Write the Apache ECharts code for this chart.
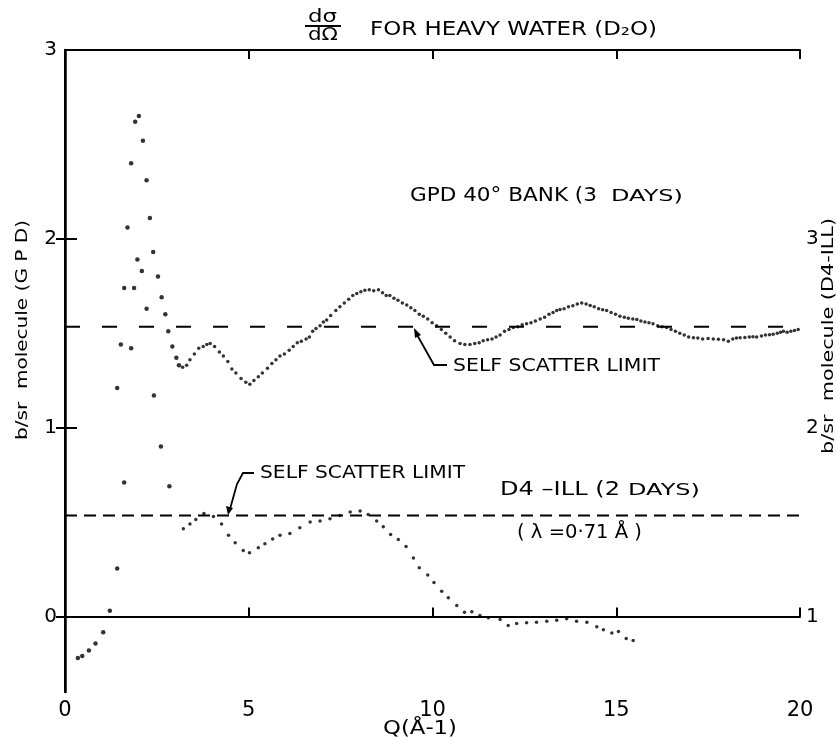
<!DOCTYPE html>
<html>
<head>
<meta charset="utf-8">
<script src="https://cdn.jsdelivr.net/npm/echarts@6/dist/echarts.min.js"></script>
<style>
  html, body { margin: 0; padding: 0; background: #fff; }
  #chart { width: 836px; height: 738px; }
</style>
</head>
<body>
<div id="chart"></div>
<script>
// Axis ticks
const xTicks = [0, 5, 10, 15, 20];
const leftTicks = [0, 1, 2, 3];
const rightTicks = [1, 2, 3];

// Self-scatter limits (left scale for GPD, right scale for D4-ILL)
const gpdLimit = 1.535;
const d4Limit = 1.535;

// GPD 40° bank, first-peak region [Q, b/sr per molecule]
const gpdPeak = [
  [1.42, 1.21], [1.52, 1.44], [1.61, 1.74], [1.70, 2.06], [1.80, 2.40], [1.88, 1.74],
  [1.91, 2.62], [2.01, 2.65], [2.12, 2.52], [2.22, 2.31], [2.31, 2.11], [2.40, 1.93],
  [2.53, 1.80], [2.63, 1.69], [2.73, 1.60], [2.81, 1.51], [2.92, 1.43], [3.03, 1.37],
  [3.10, 1.33]
];

// GPD 40° bank, Q >= 3.2
const gpdCurve = [
  [3.20, 1.32], [3.31, 1.33], [3.40, 1.36], [3.52, 1.39], [3.64, 1.42], [3.76, 1.43],
  [3.86, 1.44], [3.95, 1.446], [4.07, 1.43], [4.20, 1.40], [4.31, 1.38], [4.43, 1.35],
  [4.54, 1.31], [4.65, 1.29], [4.79, 1.26], [4.92, 1.24], [5.03, 1.23], [5.14, 1.25],
  [5.26, 1.27], [5.37, 1.29], [5.51, 1.315], [5.63, 1.34], [5.74, 1.36], [5.85, 1.38],
  [5.97, 1.39], [6.10, 1.41], [6.21, 1.43], [6.32, 1.45], [6.43, 1.457], [6.56, 1.47],
  [6.65, 1.48], [6.74, 1.51], [6.83, 1.525], [6.94, 1.54], [7.03, 1.56], [7.12, 1.57],
  [7.23, 1.594], [7.37, 1.62], [7.48, 1.64], [7.60, 1.66], [7.72, 1.68], [7.83, 1.70],
  [7.94, 1.71], [8.05, 1.72], [8.16, 1.728], [8.28, 1.73], [8.40, 1.725], [8.53, 1.73],
  [8.64, 1.715], [8.74, 1.70], [8.84, 1.70], [8.95, 1.685], [9.06, 1.675], [9.18, 1.66],
  [9.30, 1.65], [9.41, 1.635], [9.52, 1.62], [9.64, 1.60], [9.75, 1.59], [9.87, 1.575],
  [9.99, 1.555], [10.11, 1.54], [10.24, 1.52], [10.36, 1.50], [10.48, 1.48], [10.60, 1.46],
  [10.75, 1.446], [10.88, 1.44], [11.02, 1.44], [11.15, 1.445], [11.27, 1.45], [11.38, 1.46],
  [11.50, 1.465], [11.62, 1.47], [11.73, 1.48], [11.84, 1.49], [11.96, 1.51], [12.08, 1.52],
  [12.20, 1.53], [12.32, 1.535], [12.44, 1.545], [12.56, 1.55], [12.68, 1.555], [12.80, 1.565],
  [12.93, 1.575], [13.05, 1.585], [13.17, 1.60], [13.28, 1.61], [13.38, 1.62], [13.47, 1.626],
  [13.58, 1.63], [13.70, 1.64], [13.82, 1.645], [13.94, 1.655], [14.06, 1.66], [14.18, 1.655],
  [14.29, 1.647], [14.40, 1.64], [14.52, 1.63], [14.63, 1.625], [14.74, 1.62], [14.86, 1.61],
  [14.98, 1.60], [15.10, 1.59], [15.22, 1.585], [15.33, 1.58], [15.45, 1.575], [15.56, 1.573],
  [15.67, 1.565], [15.78, 1.56], [15.89, 1.555], [16.00, 1.55], [16.13, 1.54], [16.25, 1.535],
  [16.37, 1.53], [16.49, 1.52], [16.61, 1.51], [16.73, 1.50], [16.85, 1.49], [16.97, 1.48],
  [17.10, 1.476], [17.22, 1.475], [17.35, 1.47], [17.50, 1.472], [17.64, 1.47], [17.78, 1.468],
  [17.92, 1.465], [18.05, 1.458], [18.17, 1.47], [18.27, 1.475], [18.37, 1.476], [18.50, 1.478],
  [18.62, 1.48], [18.72, 1.482], [18.82, 1.48], [18.95, 1.485], [19.06, 1.49], [19.17, 1.492],
  [19.27, 1.494], [19.38, 1.50], [19.47, 1.505], [19.55, 1.51], [19.65, 1.505], [19.75, 1.51],
  [19.85, 1.515], [19.95, 1.52]
];

// D4-ILL, low-Q and first-peak region (right scale)
const d4Peak = [
  [0.35, 0.78], [0.47, 0.79], [0.65, 0.82], [0.83, 0.857], [1.04, 0.917], [1.22, 1.03],
  [1.42, 1.254], [1.61, 1.71], [1.80, 2.42], [1.97, 2.89], [2.09, 2.83], [2.22, 2.63],
  [2.42, 2.17], [2.61, 1.90], [2.84, 1.69]
];

// D4-ILL, Q >= 3.2 (right scale)
const d4Curve = [
  [3.22, 1.465], [3.40, 1.49], [3.56, 1.514], [3.78, 1.545], [4.04, 1.53], [4.26, 1.49],
  [4.45, 1.43], [4.63, 1.39], [4.85, 1.35], [5.02, 1.337], [5.26, 1.364], [5.44, 1.385],
  [5.65, 1.41], [5.85, 1.43], [6.12, 1.44], [6.39, 1.47], [6.67, 1.50], [6.94, 1.505],
  [7.21, 1.517], [7.48, 1.535], [7.76, 1.553], [8.03, 1.558], [8.25, 1.54], [8.48, 1.505],
  [8.66, 1.475], [8.86, 1.434], [9.07, 1.408], [9.28, 1.37], [9.48, 1.31], [9.64, 1.258],
  [9.87, 1.22], [10.04, 1.18], [10.25, 1.134], [10.43, 1.099], [10.66, 1.058], [10.87, 1.023],
  [11.07, 1.025], [11.29, 1.005], [11.52, 0.993], [11.84, 0.984], [12.06, 0.952], [12.29, 0.963],
  [12.56, 0.967], [12.83, 0.97], [13.11, 0.975], [13.38, 0.98], [13.65, 0.988], [13.92, 0.975],
  [14.20, 0.97], [14.47, 0.945], [14.65, 0.93], [14.88, 0.913], [15.06, 0.92], [15.27, 0.883],
  [15.46, 0.873]
];

const INK = '#000';
const FONT = '"DejaVu Sans"';

const chart = echarts.init(document.getElementById('chart'), null, { renderer: 'canvas' });

function xAxisBase(pos, showLabels) {
  return {
    type: 'value', position: pos, min: 0, max: 20, interval: 5,
    axisLine: { show: true, lineStyle: { color: INK, width: 2 } },
    axisTick: { show: true, inside: true, length: 9, lineStyle: { color: INK, width: 2 } },
    axisLabel: { show: showLabels, color: INK, fontFamily: 'DejaVu Sans', fontSize: 21, margin: 8,
                 customValues: xTicks },
    splitLine: { show: false }
  };
}

const dot = (size) => ({ symbol: 'circle', symbolSize: size, itemStyle: { color: INK } });

// Wide hand-lettered look: text stretched horizontally to a given run length.
const measureCtx = document.createElement('canvas').getContext('2d');
function lettering(text, x, y, size, runLength, opts) {
  opts = opts || {};
  const font = size + 'px ' + FONT;
  measureCtx.font = font;
  const natural = measureCtx.measureText(text).width;
  return {
    type: 'text', x: x, y: y, rotation: opts.rotation || 0,
    scaleX: runLength / natural,
    style: { text: text, fill: INK, font: font,
             align: opts.align || 'left', verticalAlign: 'middle' }
  };
}

chart.setOption({
  animation: false,
  backgroundColor: '#fff',
  grid: { left: 65, right: 36, top: 50, bottom: 46 },
  xAxis: [xAxisBase('bottom', true), xAxisBase('top', false)],
  yAxis: [
    {
      type: 'value', position: 'left', min: -0.4, max: 3,
      axisLine: { show: true, lineStyle: { color: INK, width: 2.5 } },
      axisTick: { show: true, inside: true, length: 12, customValues: leftTicks,
                  lineStyle: { color: INK, width: 2 } },
      axisLabel: { color: INK, fontFamily: 'DejaVu Sans', fontSize: 20, margin: 8,
                   customValues: leftTicks },
      splitLine: { show: false }
    },
    {
      type: 'value', position: 'right', min: 0.6, max: 4,
      axisLine: { show: true, lineStyle: { color: INK, width: 2 } },
      axisTick: { show: true, inside: true, length: 9, customValues: rightTicks,
                  lineStyle: { color: INK, width: 2 } },
      axisLabel: { color: INK, fontFamily: 'DejaVu Sans', fontSize: 20, margin: 6,
                   customValues: rightTicks },
      splitLine: { show: false }
    }
  ],
  series: [
    { type: 'line', data: [[0, gpdLimit], [20, gpdLimit]], yAxisIndex: 0, symbol: 'none',
      lineStyle: { color: INK, width: 2, type: [15, 22] }, silent: true },
    { type: 'line', data: [[0, d4Limit], [20, d4Limit]], yAxisIndex: 1, symbol: 'none',
      lineStyle: { color: INK, width: 2, type: [12, 7] }, silent: true },
    Object.assign({ type: 'scatter', name: 'GPD', yAxisIndex: 0, data: gpdPeak }, dot(4.5)),
    Object.assign({ type: 'scatter', name: 'GPD', yAxisIndex: 0, data: gpdCurve }, dot(3.5)),
    Object.assign({ type: 'scatter', name: 'D4-ILL', yAxisIndex: 1, data: d4Peak }, dot(4.5)),
    Object.assign({ type: 'scatter', name: 'D4-ILL', yAxisIndex: 1, data: d4Curve }, dot(3.5))
  ],
  graphic: [
    // title: dσ/dΩ FOR HEAVY WATER (D2O)
    lettering('dσ', 308, 17, 18, 29),
    { type: 'line', shape: { x1: 305, y1: 26, x2: 341, y2: 26 }, style: { stroke: INK, lineWidth: 2 } },
    lettering('dΩ', 308, 35, 18, 30),
    lettering('FOR HEAVY WATER (D₂O)', 370, 30, 19, 287),

    // GPD annotation
    lettering('GPD 40° BANK (3', 410, 196, 20, 187),
    lettering('DAYS)', 611, 197, 16, 72),

    lettering('SELF SCATTER LIMIT', 453, 366, 18, 207),
    { type: 'polyline', shape: { points: [[447, 365], [434, 365], [416, 333]] },
      style: { stroke: INK, lineWidth: 1.8, fill: null } },
    { type: 'polygon', shape: { points: [[414, 328], [421, 335], [415, 338]] },
      style: { fill: INK } },

    // D4-ILL annotation
    lettering('SELF SCATTER LIMIT', 260, 473, 18, 205),
    { type: 'polyline', shape: { points: [[254, 473], [243, 473], [237, 484], [230, 509]] },
      style: { stroke: INK, lineWidth: 1.8, fill: null } },
    { type: 'polygon', shape: { points: [[228, 515], [226, 506], [233, 508]] },
      style: { fill: INK } },

    lettering('D4 –ILL (2', 500, 490, 20, 120),
    lettering('DAYS)', 628, 491, 16, 72),
    lettering('( λ =0·71 Å )', 517, 533, 19, 125),

    // axis titles
    lettering('b/sr  molecule (G P D)', 23, 330, 16, 220, { rotation: Math.PI / 2, align: 'center' }),
    lettering('b/sr  molecule (D4-ILL)', 829, 336, 16, 236, { rotation: Math.PI / 2, align: 'center' }),
    lettering('Q(Å-1)', 383, 729, 20, 74)
  ]
});
</script>
</body>
</html>
